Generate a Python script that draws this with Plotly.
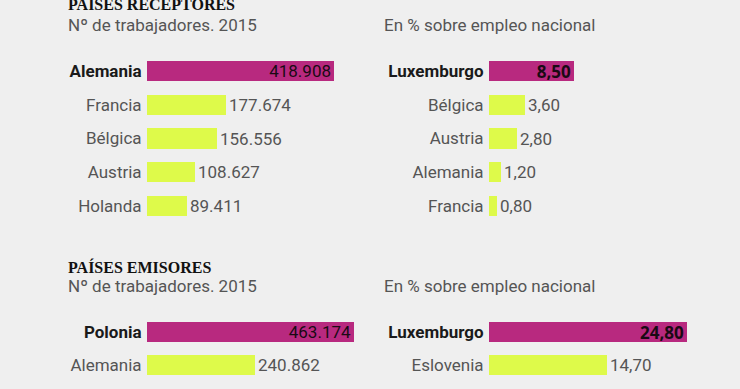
import plotly.graph_objects as go

W, H = 740, 389

# ---- data ----
rec_countries = ["Alemania", "Francia", "Bélgica", "Austria", "Holanda"]
rec_workers = [418908, 177674, 156556, 108627, 89411]
rec_pct_countries = ["Luxemburgo", "Bélgica", "Austria", "Alemania", "Francia"]
rec_pct = [8.50, 3.60, 2.80, 1.20, 0.80]

emi_countries = ["Polonia", "Alemania"]
emi_workers = [463174, 240862]
emi_pct_countries = ["Luxemburgo", "Eslovenia"]
emi_pct = [24.80, 14.70]

MAGENTA = "#b8297f"
LIME = "#defa4a"
BG = "#efefef"
GRAY = "#555555"
FONT = "Roboto"
FS = 17


def fmt_int(v):
    return f"{v:,}".replace(",", ".")


def fmt_pct(v):
    return f"{v:.2f}".replace(".", ",")


def px_x(p):
    return p / W


def px_y(p):
    return 1 - p / H


fig = go.Figure()


def add_panel(idx, names, values, fmt, xrange_, xdom, ydom, inside_family, inside_bold):
    n = len(values)
    texts = []
    positions = []
    tcolors = []
    colors = []
    for i, v in enumerate(values):
        if i == 0:
            t = fmt(v)
            texts.append(f"<b>{t}</b>" if inside_bold else t)
            positions.append("inside")
            tcolors.append("#1a0a14")
            colors.append(MAGENTA)
        else:
            texts.append(fmt(v))
            positions.append("outside")
            tcolors.append(GRAY)
            colors.append(LIME)
    suffix = "" if idx == 1 else str(idx)
    fig.add_trace(go.Bar(
        x=values, y=list(range(n)), orientation="h",
        marker=dict(color=colors, line=dict(width=0)),
        width=0.6,
        text=texts, textposition=positions,
        insidetextanchor="end",
        textfont=dict(color=tcolors, family=FONT, size=FS),
        insidetextfont=dict(color="#1a0a14", family=inside_family, size=FS),
        outsidetextfont=dict(color=GRAY, family=FONT, size=FS),
        cliponaxis=False,
        xaxis="x" + suffix, yaxis="y" + suffix,
        showlegend=False, hoverinfo="skip",
    ))
    ticktext = []
    for i, nm in enumerate(names):
        if i == 0:
            ticktext.append(f"<b><span style='color:#1a1a1a'>{nm}</span></b>")
        else:
            ticktext.append(nm)
    fig.layout["xaxis" + suffix] = dict(
        domain=[px_x(xdom[0]), px_x(xdom[1])], range=list(xrange_),
        visible=False, anchor="y" + suffix, fixedrange=True)
    fig.layout["yaxis" + suffix] = dict(
        domain=[px_y(ydom[1]), px_y(ydom[0])],
        range=[n - 0.5, -0.5],
        tickvals=list(range(n)), ticktext=ticktext,
        tickfont=dict(family=FONT, size=FS, color=GRAY),
        ticks="outside", ticklen=1, tickcolor="rgba(0,0,0,0)",
        showgrid=False, zeroline=False, showline=False,
        anchor="x" + suffix, fixedrange=True)


# top-left: 0 at px 147, 187 px for 418908
left_range = 500000
left_w = left_range * 187 / 418908
add_panel(1, rec_countries, rec_workers, fmt_int, (0, left_range),
          (147, 147 + left_w), (71 - 16.875, 206 + 16.875), FONT, False)
# top-right: 10 px per unit
add_panel(2, rec_pct_countries, rec_pct, fmt_pct, (0, 20),
          (489, 689), (71 - 16.875, 206 + 16.875), "Open Sans", True)
# bottom-left
add_panel(3, emi_countries, emi_workers, fmt_int, (0, left_range),
          (147, 147 + left_w), (332 - 16.75, 365.5 + 16.75), FONT, False)
# bottom-right: ~8 px per unit
add_panel(4, emi_pct_countries, emi_pct, fmt_pct, (0, 30),
          (489, 729), (332 - 16.75, 365.5 + 16.75), "Open Sans", True)

annotations = [
    dict(text="<b>PAÍSES RECEPTORES</b>", x=px_x(66), y=px_y(11),
         font=dict(family="Liberation Serif", size=16, color="#111111")),
    dict(text="Nº de trabajadores. 2015", x=px_x(66), y=px_y(25),
         font=dict(family=FONT, size=FS, color=GRAY), yanchor="middle"),
    dict(text="En % sobre empleo nacional", x=px_x(382), y=px_y(25),
         font=dict(family=FONT, size=FS, color=GRAY), yanchor="middle"),
    dict(text="<b>PAÍSES EMISORES</b>", x=px_x(66), y=px_y(274),
         font=dict(family="Liberation Serif", size=16, color="#111111")),
    dict(text="Nº de trabajadores. 2015", x=px_x(66), y=px_y(286),
         font=dict(family=FONT, size=FS, color=GRAY), yanchor="middle"),
    dict(text="En % sobre empleo nacional", x=px_x(382), y=px_y(286),
         font=dict(family=FONT, size=FS, color=GRAY), yanchor="middle"),
]
for a in annotations:
    a.setdefault("yanchor", "bottom")
    a.update(xref="paper", yref="paper", xanchor="left", showarrow=False)
    if a["yanchor"] == "bottom":
        a["yshift"] = -4

fig.update_layout(
    width=W, height=H,
    margin=dict(l=0, r=0, t=0, b=0),
    paper_bgcolor=BG, plot_bgcolor=BG,
    annotations=annotations,
    bargap=0,
    uniformtext=dict(mode="show", minsize=FS),
)

post = ("document.body.style.margin='0';"
        "document.body.style.padding='0';"
        "document.body.style.background='%s';"
        "document.documentElement.style.overflow='hidden';" % BG)

fig.write_html("out.html", config={"displayModeBar": False}, post_script=post)
